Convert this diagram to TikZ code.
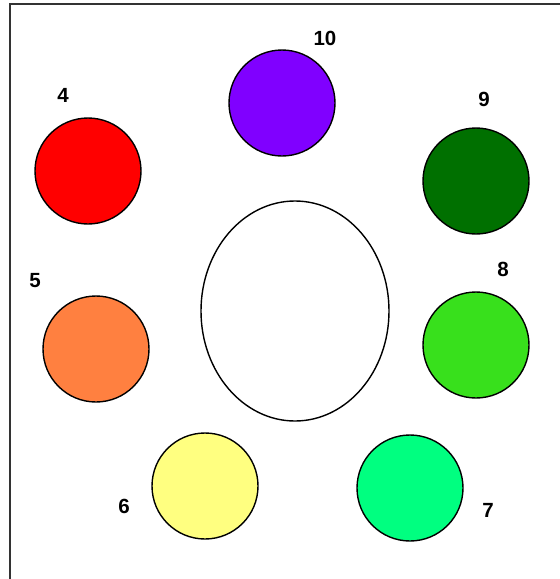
\documentclass[tikz,border=0pt]{standalone}
\usepackage{fontspec}
\setmainfont{Liberation Sans}
\usetikzlibrary{shapes.geometric}
\begin{document}
\begin{tikzpicture}[x=1pt,y=-1pt,
  disc/.style={circle,draw=black,line width=1.4pt,minimum size=106pt,inner sep=0pt},
  num/.style={font=\fontsize{20.5}{20.5}\selectfont\bfseries,inner sep=0pt}]
\useasboundingbox (0,0) rectangle (560,579);
\definecolor{cpurple}{HTML}{8000FF}
\definecolor{cred}{HTML}{FF0000}
\definecolor{cdgreen}{HTML}{007000}
\definecolor{corange}{HTML}{FF8040}
\definecolor{clgreen}{HTML}{38E01C}
\definecolor{cyellow}{HTML}{FFFF80}
\definecolor{cmint}{HTML}{00FF80}
\draw[line width=2pt,black!80] (10,579) -- (10,4) -- (560,4);
\node[disc,fill=cpurple] (c10) at (282,103) {};
\node[disc,fill=cred] (c4) at (88,171) {};
\node[disc,fill=cdgreen] (c9) at (476,181) {};
\node[disc,fill=corange] (c5) at (96,349) {};
\node[disc,fill=clgreen] (c8) at (476,345) {};
\node[disc,fill=cyellow] (c6) at (205,486) {};
\node[disc,fill=cmint] (c7) at (410,488) {};
\node[ellipse,draw=black,line width=1.4pt,minimum width=188pt,minimum height=220pt,inner sep=0pt] (e) at (295,311) {};
\node[num] (l10) at (325,38) {10};
\node[num] (l4) at (63,95) {4};
\node[num] (l9) at (484,99) {9};
\node[num] (l5) at (35,281) {5};
\node[num] (l8) at (503,269) {8};
\node[num] (l6) at (124,506) {6};
\node[num] (l7) at (488,510) {7};
\end{tikzpicture}
\end{document}
